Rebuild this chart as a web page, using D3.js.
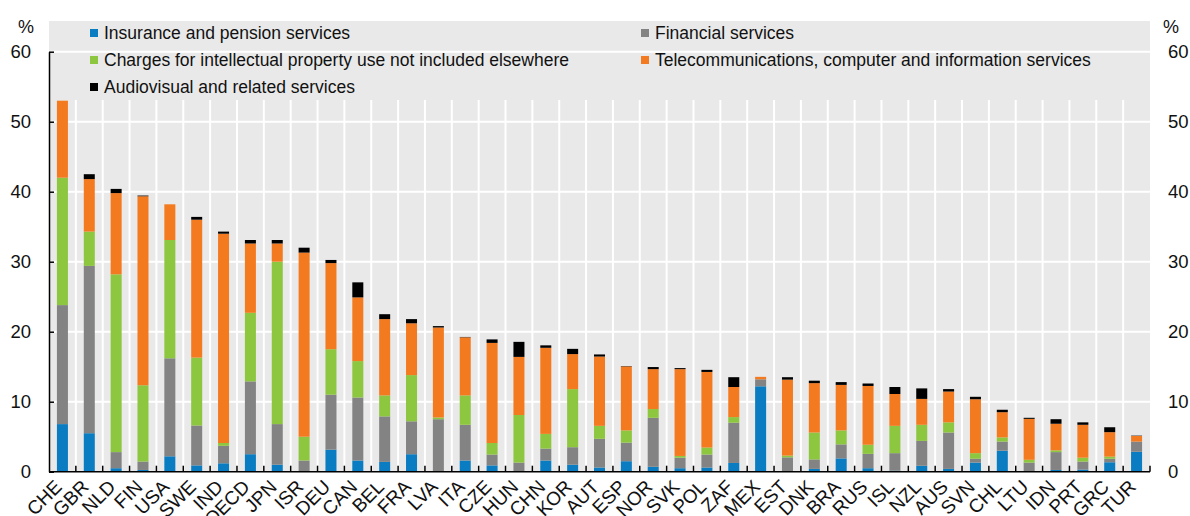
<!DOCTYPE html>
<html><head><meta charset="utf-8">
<script src="https://cdn.jsdelivr.net/npm/d3@7"></script>
<style>body{margin:0;background:#fff;}svg{display:block;font-family:"Liberation Sans",Arial,sans-serif;}</style>
</head><body><svg id="c" width="1190" height="516"></svg>
<script>
const categories = ["CHE","GBR","NLD","FIN","USA","SWE","IND","OECD","JPN","ISR","DEU","CAN","BEL","FRA","LVA","ITA","CZE","HUN","CHN","KOR","AUT","ESP","NOR","SVK","POL","ZAF","MEX","EST","DNK","BRA","RUS","ISL","NZL","AUS","SVN","CHL","LTU","IDN","PRT","GRC","TUR"];
const insurance   = [6.8,5.5,0.5,0.25,2.2,0.9,1.2,2.5,1.0,0,3.15,1.6,1.4,2.5,0,1.6,0.9,0.1,1.6,1.0,0.6,1.5,0.7,0.5,0.6,1.25,12.2,0.05,0.4,1.9,0.5,0.15,0.85,0.4,1.3,3.0,0.05,0.25,0.3,1.35,2.85];
const financial   = [17.0,23.9,2.3,1.2,14.0,5.7,2.5,10.4,5.8,1.6,7.85,9.0,6.5,4.7,7.5,5.1,1.55,1.2,1.7,2.5,4.1,2.65,7.0,1.5,1.85,5.75,1.0,2.0,1.35,2.0,2.05,2.5,3.55,5.2,0.55,1.3,1.25,2.55,1.15,0.5,1.45];
const intellectual= [18.2,4.9,25.4,10.9,16.9,9.7,0.4,9.8,23.2,3.4,6.5,5.2,3.0,6.6,0.25,4.2,1.65,6.8,2.1,8.3,1.85,1.75,1.25,0.25,1.0,0.8,0,0.25,3.85,2.0,1.3,3.9,2.3,1.45,0.8,0.6,0.4,0.25,0.55,0.3,0];
const telecom     = [11.0,7.5,11.6,27.0,5.1,19.7,29.9,9.9,2.6,26.3,12.3,9.1,10.9,7.4,12.85,8.3,14.3,8.3,12.3,5.0,9.9,9.15,5.7,12.4,10.8,4.3,0.35,10.85,7.05,6.5,8.4,4.55,3.7,4.4,7.7,3.6,5.85,3.8,4.7,3.5,0.8];
const audiovisual = [0,0.7,0.6,0.1,0,0.4,0.3,0.5,0.5,0.7,0.45,2.15,0.7,0.6,0.2,0.05,0.5,2.15,0.35,0.75,0.3,0.05,0.3,0.15,0.3,1.4,0,0.35,0.35,0.4,0.35,1.0,1.5,0.35,0.35,0.35,0.15,0.65,0.35,0.7,0.05];
const seriesNames = ["Insurance and pension services","Financial services","Charges for intellectual property use not included elsewhere","Telecommunications, computer and information services","Audiovisual and related services"];
const seriesKeys = ["ins","fin","ip","tel","av"];
const colors = ["#0a7cc1","#838383","#8dc63f","#f47a20","#000000"];
const yTicks = [0,10,20,30,40,50,60];

const rows = categories.map((c,i)=>({cat:c,ins:insurance[i],fin:financial[i],ip:intellectual[i],tel:telecom[i],av:audiovisual[i]}));
const svg = d3.select("#c");
const L=49, R=1150, T=21, B=471.7;
const y = d3.scaleLinear().domain([0,60]).range([B,51.7]);
const xb = d3.scaleBand().domain(categories).range([L,R]).padding(0);
const x = d3.scaleBand().domain(categories).range([L,R]).paddingInner(0.59).paddingOuter(0.295);

svg.append("rect").attr("x",L).attr("y",T).attr("width",R-L).attr("height",B-T).attr("fill","#e9e9e9");
// grid
svg.append("g").selectAll("line").data(yTicks.slice(1)).join("line")
  .attr("x1",L).attr("x2",R).attr("y1",d=>y(d)).attr("y2",d=>y(d)).attr("stroke","#fff").attr("stroke-width",2);
svg.append("g").selectAll("line").data(categories.slice(1)).join("line")
  .attr("x1",d=>xb(d)).attr("x2",d=>xb(d)).attr("y1",100).attr("y2",B).attr("stroke","#fff").attr("stroke-width",2);

const stack = d3.stack().keys(seriesKeys)(rows);
svg.append("g").selectAll("g").data(stack).join("g").attr("fill",(d,i)=>colors[i])
  .selectAll("rect").data(d=>d).join("rect")
  .attr("x",d=>x(d.data.cat)).attr("width",x.bandwidth())
  .attr("y",d=>y(d[1])).attr("height",d=>Math.max(0,y(d[0])-y(d[1])));

// legend
const lg = svg.append("g");
const lpos = [[90,33],[641,33],[90,60],[641,60],[90,87]];
seriesNames.forEach((n,i)=>{
  lg.append("rect").attr("x",lpos[i][0]).attr("y",lpos[i][1]-4).attr("width",8).attr("height",8).attr("fill",colors[i]);
  lg.append("text").attr("x",lpos[i][0]+14).attr("y",lpos[i][1]).attr("dy","0.35em").attr("font-size","17.5px").attr("fill","#111").text(n);
});

// axes
const yl = svg.append("g").attr("transform",`translate(${L},0)`).call(d3.axisLeft(y).tickValues(yTicks).tickSizeInner(-5).tickSizeOuter(0).tickPadding(18));
yl.select(".domain").attr("stroke","#000").attr("stroke-width",1.5);
yl.selectAll(".tick line").attr("stroke","#000").attr("stroke-width",1.5);
yl.selectAll("text").attr("font-size","18.5px").attr("fill","#111").attr("font-family","Liberation Sans, Arial, sans-serif");
const yr = svg.append("g").attr("transform",`translate(${R},0)`).call(d3.axisRight(y).tickValues(yTicks).tickSize(0).tickPadding(18));
yr.select(".domain").remove();
yr.selectAll("text").attr("font-size","18.5px").attr("fill","#111").attr("font-family","Liberation Sans, Arial, sans-serif");

const xa = svg.append("g").attr("transform",`translate(0,${B})`);
xa.append("line").attr("x1",L).attr("x2",R).attr("stroke","#000").attr("stroke-width",1.5);
xa.selectAll("line.t").data(categories.slice(1).concat(["__end"])).join("line").attr("class","t")
  .attr("x1",d=>d==="__end"?R:xb(d)).attr("x2",d=>d==="__end"?R:xb(d)).attr("y1",-6).attr("y2",0).attr("stroke","#000").attr("stroke-width",1.5);
xa.selectAll("text").data(categories).join("text")
  .attr("transform",d=>`translate(${xb(d)+xb.bandwidth()/2-8.8},7) rotate(-45)`)
  .attr("text-anchor","end").attr("dy","0.7em").attr("font-size","19px").attr("fill","#111").text(d=>d);

svg.append("text").attr("x",26).attr("y",33).attr("text-anchor","middle").attr("font-size","18px").attr("fill","#111").text("%");
svg.append("text").attr("x",1171).attr("y",33).attr("text-anchor","middle").attr("font-size","18px").attr("fill","#111").text("%");
</script></body></html>
